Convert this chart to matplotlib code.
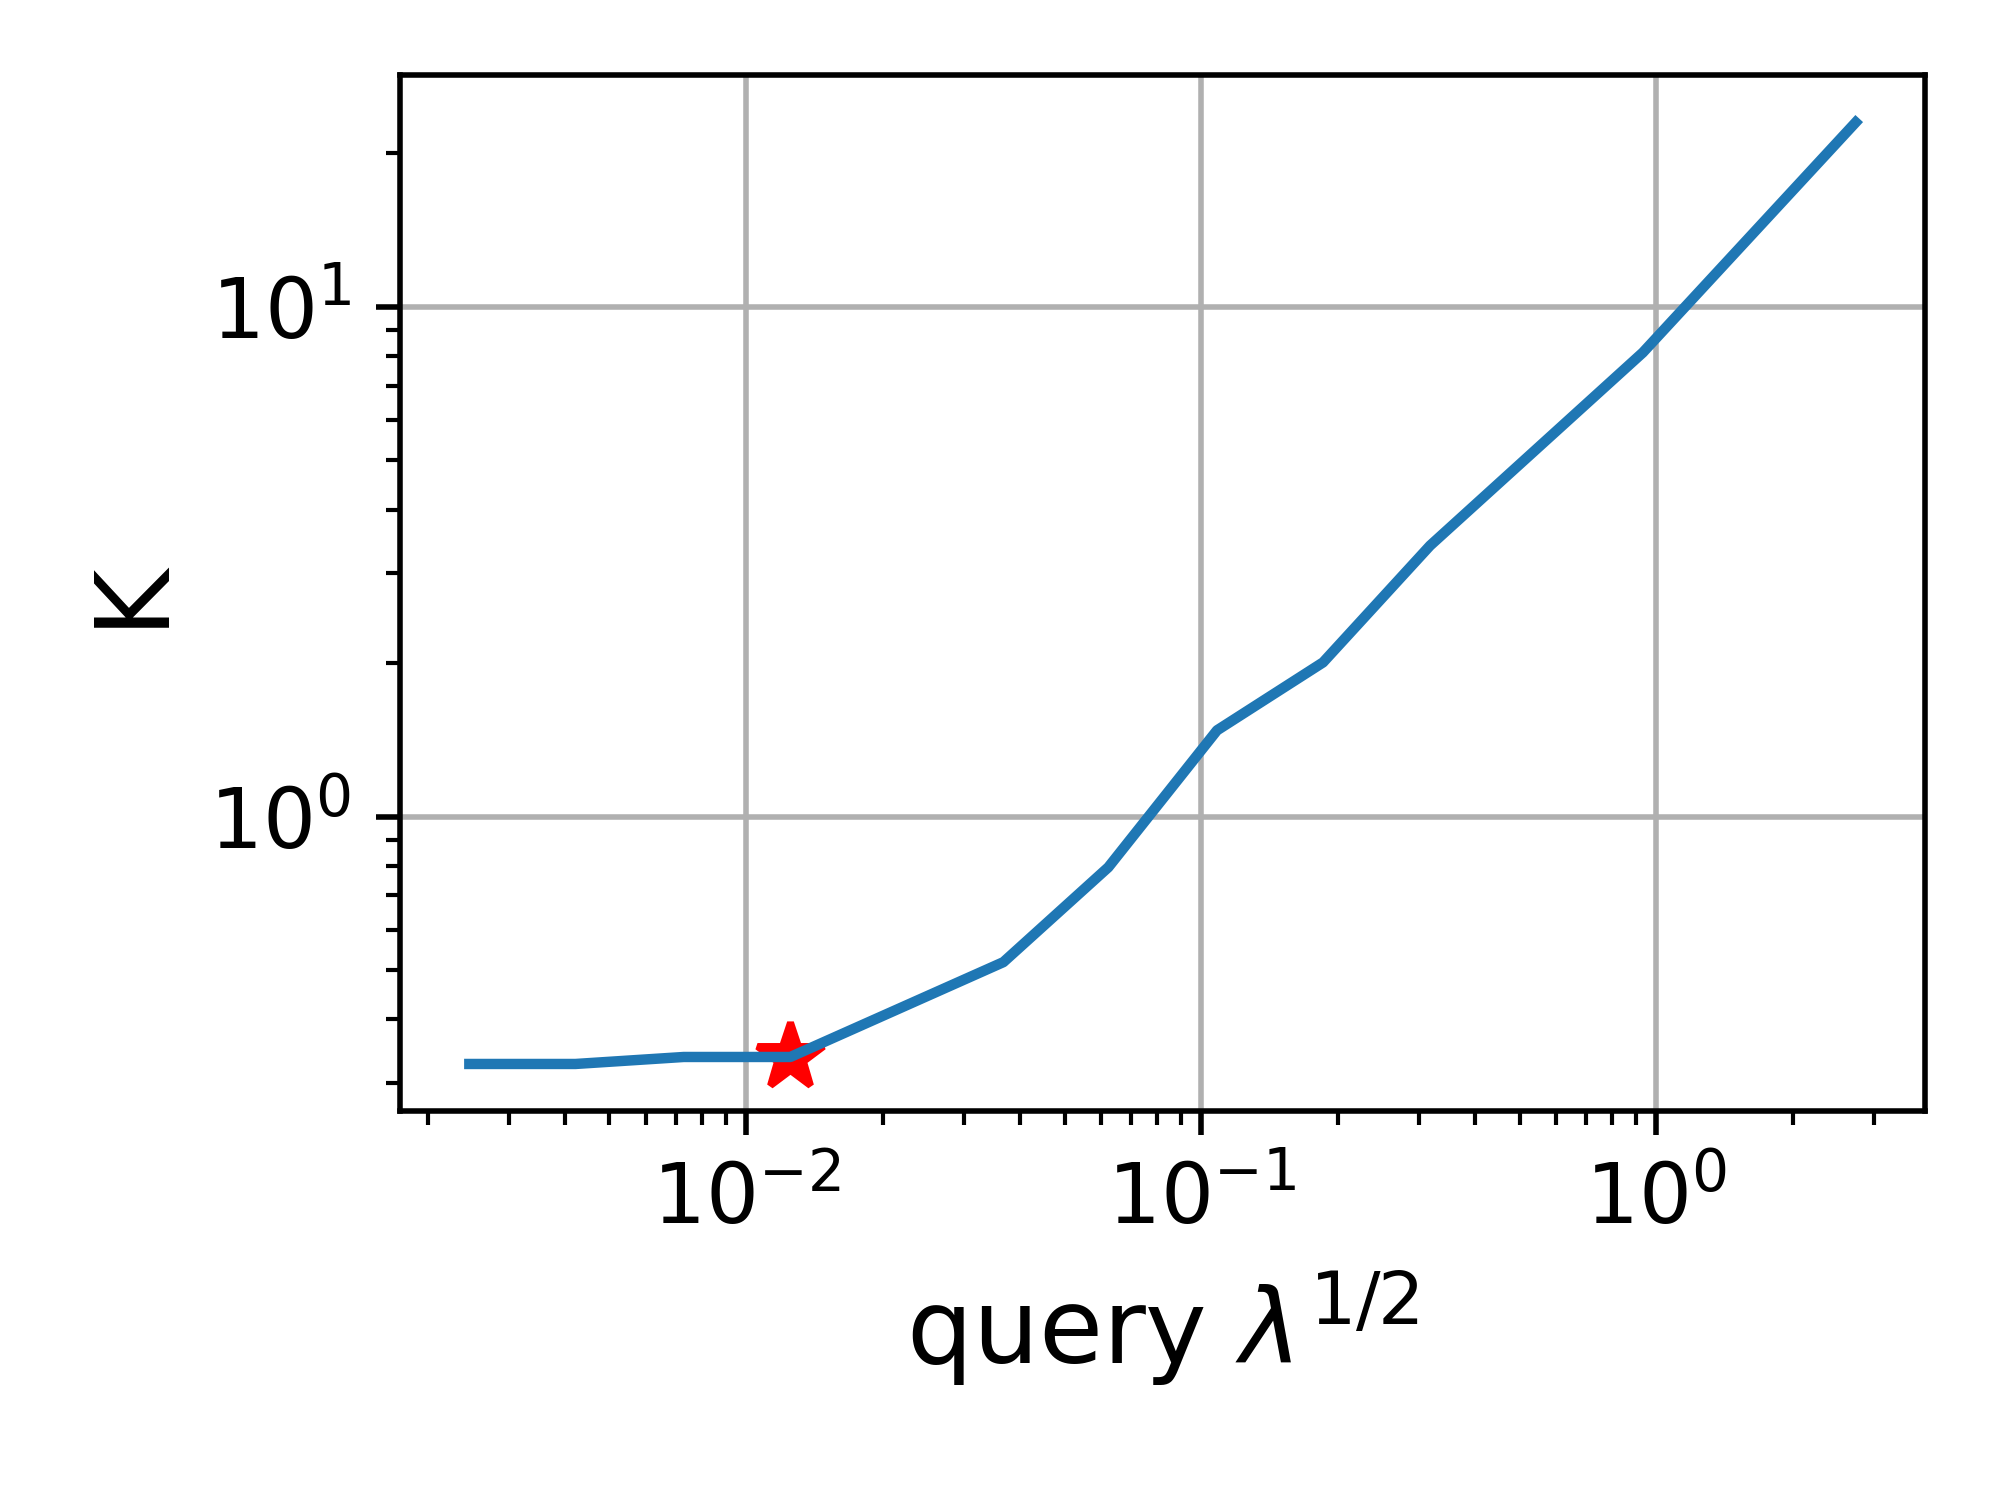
import matplotlib
matplotlib.use("Agg")
import matplotlib.pyplot as plt

# Data (x = query lambda^(1/2), y = K)
lam_sqrt = [0.00246, 0.00421, 0.00728, 0.01249, 0.0367, 0.0624, 0.1082, 0.185, 0.318, 0.933, 2.74]
K_values = [0.327, 0.327, 0.3375, 0.3375, 0.518, 0.795, 1.476, 2.006, 3.40, 8.13, 23.0]

# highlighted point (red star)
star_x = [0.01249]
star_y = [0.3375]

plt.rcParams['font.family'] = ['DejaVu Sans']

fig = plt.figure(figsize=(4, 3), dpi=500)
ax = fig.add_axes([0.2, 0.2593, 0.7625, 0.6905])

ax.plot(star_x, star_y, marker='*', color='red', markersize=10, linestyle='none')
ax.plot(lam_sqrt, K_values, color='#1f77b4', linewidth=1.5)

ax.set_xscale('log')
ax.set_yscale('log')
ax.grid(True, which='major', color='#b0b0b0', linewidth=0.8)
ax.set_axisbelow(True)

ax.tick_params(axis='both', which='major', labelsize=12)
ax.set_xlabel(r'query $\lambda^{1/2}$', fontsize=15)
ax.set_ylabel('K', fontsize=15)

fig.savefig('out.png', dpi=500)
